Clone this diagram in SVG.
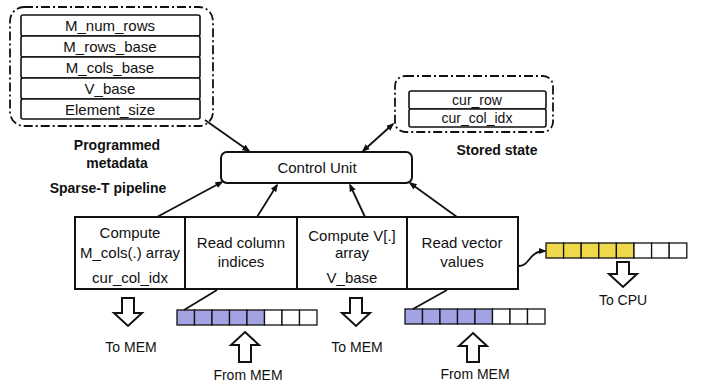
<svg xmlns="http://www.w3.org/2000/svg" width="705" height="384" viewBox="0 0 705 384">
<defs>
<style>
text{font-family:"Liberation Sans",Arial,sans-serif;fill:#111;text-anchor:middle}
.t{font-size:15px}
.s{font-size:14px}
.b{font-size:14px;font-weight:bold}
.box{fill:#fff;stroke:#111;stroke-width:2}
.row{fill:#fff;stroke:#111;stroke-width:1.6}
.dash{fill:none;stroke:#111;stroke-width:1.8;stroke-dasharray:9 3 2 3}
.ln{fill:none;stroke:#111;stroke-width:1.8}
.hol{fill:#fff;stroke:#111;stroke-width:2;stroke-linejoin:miter}
.p{fill:#a3a3e3;stroke:#111;stroke-width:1.3}
.y{fill:#efd94a;stroke:#111;stroke-width:1.3}
.w{fill:#fff;stroke:#111;stroke-width:1.3}
</style>
<marker id="ah" viewBox="0 0 10 10" refX="8" refY="5" markerWidth="4.5" markerHeight="4.5" orient="auto-start-reverse">
<path d="M0,1 L10,5 L0,9 z" fill="#111"/>
</marker>
</defs>
<rect width="705" height="384" fill="#fff"/>

<g id="metadata">
<rect class="dash" x="10" y="7" width="203" height="119" rx="14"/>
<rect class="row" x="21" y="15" width="179" height="21" rx="2"/>
<rect class="row" x="21" y="36" width="179" height="21" rx="2"/>
<rect class="row" x="21" y="57" width="179" height="21" rx="2"/>
<rect class="row" x="21" y="78" width="179" height="21" rx="2"/>
<rect class="row" x="21" y="99" width="179" height="20" rx="2"/>
<text class="t" x="110" y="31">M_num_rows</text>
<text class="t" x="110" y="52">M_rows_base</text>
<text class="t" x="110" y="73">M_cols_base</text>
<text class="t" x="110" y="94">V_base</text>
<text class="t" x="110" y="115">Element_size</text>
<text class="b" x="117" y="150">Programmed</text>
<text class="b" x="117" y="168">metadata</text>
</g>

<g id="stored-state">
<rect class="dash" x="395" y="76" width="158" height="56" rx="10"/>
<rect class="row" x="409" y="91" width="137" height="18" rx="2"/>
<rect class="row" x="409" y="109" width="137" height="18" rx="2"/>
<text class="s" x="477" y="105">cur_row</text>
<text class="s" x="477" y="123">cur_col_idx</text>
<text class="b" x="497" y="155">Stored state</text>
</g>

<text class="b" x="108" y="193">Sparse-T pipeline</text>

<g id="control-unit">
<rect class="box" x="221" y="152" width="191" height="31" rx="6"/>
<text class="t" x="317" y="173">Control Unit</text>
</g>

<g id="compute-mcols">
<rect class="box" x="75" y="217" width="110" height="72"/>
<text class="t" x="130" y="238">Compute</text>
<text class="t" x="130" y="258">M_cols(.) array</text>
<text class="t" x="130" y="283">cur_col_idx</text>
</g>
<g id="read-column">
<rect class="box" x="185" y="217" width="112" height="72"/>
<text class="t" x="241" y="248">Read column</text>
<text class="t" x="241" y="267">indices</text>
</g>
<g id="compute-v">
<rect class="box" x="297" y="217" width="110" height="72"/>
<text class="t" x="352" y="241">Compute V[.]</text>
<text class="t" x="352" y="258">array</text>
<text class="t" x="352" y="283">V_base</text>
</g>
<g id="read-vector">
<rect class="box" x="407" y="217" width="111" height="72"/>
<text class="t" x="462" y="248">Read vector</text>
<text class="t" x="462" y="267">values</text>
</g>

<g id="array-cols">
<rect class="p" x="177" y="310" width="17.5" height="15"/>
<rect class="p" x="194.5" y="310" width="17.5" height="15"/>
<rect class="p" x="212" y="310" width="17.5" height="15"/>
<rect class="p" x="229.5" y="310" width="17.5" height="15"/>
<rect class="p" x="247" y="310" width="17.5" height="15"/>
<rect class="w" x="264.5" y="310" width="17.5" height="15"/>
<rect class="w" x="282" y="310" width="17.5" height="15"/>
<rect class="w" x="299.5" y="310" width="17.5" height="15"/>
</g>
<g id="array-vec">
<rect class="p" x="405" y="309" width="17.5" height="15"/>
<rect class="p" x="422.5" y="309" width="17.5" height="15"/>
<rect class="p" x="440" y="309" width="17.5" height="15"/>
<rect class="p" x="457.5" y="309" width="17.5" height="15"/>
<rect class="p" x="475" y="309" width="17.5" height="15"/>
<rect class="w" x="492.5" y="309" width="17.5" height="15"/>
<rect class="w" x="510" y="309" width="17.5" height="15"/>
<rect class="w" x="527.5" y="309" width="17.5" height="15"/>
</g>
<g id="array-cpu">
<rect class="y" x="546" y="243" width="17.6" height="15"/>
<rect class="y" x="563.6" y="243" width="17.6" height="15"/>
<rect class="y" x="581.2" y="243" width="17.6" height="15"/>
<rect class="y" x="598.8" y="243" width="17.6" height="15"/>
<rect class="y" x="616.4" y="243" width="17.6" height="15"/>
<rect class="w" x="634" y="243" width="17.6" height="15"/>
<rect class="w" x="651.6" y="243" width="17.6" height="15"/>
<rect class="w" x="669.2" y="243" width="17.6" height="15"/>
</g>

<g id="io-arrows">
<polygon class="hol" points="122,298 134,298 134,313 142,313 128,326 114,313 122,313"/>
<text class="s" x="131" y="352">To MEM</text>
<polygon class="hol" points="350,298 362,298 362,313 370,313 356,326 342,313 350,313"/>
<text class="s" x="357" y="352">To MEM</text>
<polygon class="hol" points="245,332 259,345 251,345 251,362 239,362 239,345 231,345"/>
<text class="s" x="248" y="380">From MEM</text>
<polygon class="hol" points="473,333 487,346 479,346 479,362 467,362 467,346 459,346"/>
<text class="s" x="475" y="379">From MEM</text>
<polygon class="hol" points="617,262 629,262 629,274 637,274 623,287 609,274 617,274"/>
<text class="s" x="623" y="305">To CPU</text>
</g>

<g id="connectors">
<line class="ln" x1="205" y1="120" x2="249" y2="151" marker-end="url(#ah)"/>
<line class="ln" x1="393" y1="124" x2="363" y2="151" marker-start="url(#ah)" marker-end="url(#ah)"/>
<line class="ln" x1="222" y1="182" x2="157" y2="217" marker-start="url(#ah)"/>
<line class="ln" x1="277" y1="185" x2="257" y2="217" marker-start="url(#ah)"/>
<line class="ln" x1="350" y1="185" x2="365" y2="217" marker-start="url(#ah)"/>
<line class="ln" x1="410" y1="183" x2="457" y2="217" marker-start="url(#ah)"/>
<line class="ln" x1="217" y1="290" x2="184" y2="310"/>
<line class="ln" x1="447" y1="290" x2="413" y2="309"/>
<path class="ln" d="M518,266 C531,266 528,251 545,251" marker-end="url(#ah)"/>
</g>
</svg>
